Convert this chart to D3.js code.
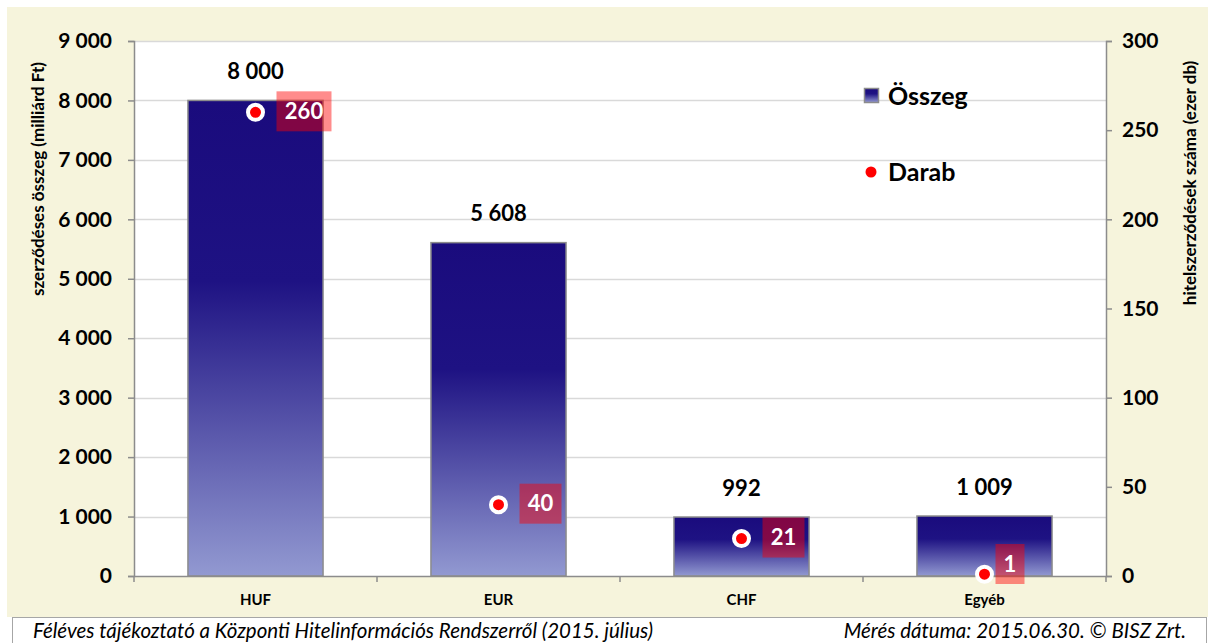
<!DOCTYPE html>
<html>
<head>
<meta charset="utf-8">
<script src="https://cdn.jsdelivr.net/npm/d3@7"></script>
<style>
  body { margin: 0; background: #fff; }
  text { font-family: Lato, "Open Sans", sans-serif; }
</style>
</head>
<body>
<div id="chart"></div>
<script>
var categories = ["HUF", "EUR", "CHF", "Egyéb"];
var osszeg = [8000, 5608, 992, 1009];
var darab = [260, 40, 21, 1];
var leftTicks = [0, 1000, 2000, 3000, 4000, 5000, 6000, 7000, 8000, 9000];
var rightTicks = [0, 50, 100, 150, 200, 250, 300];

var svgWidth = 1208, svgHeight = 643;
var margin = { top: 41, right: 102, bottom: 67, left: 134 };
var width = svgWidth - margin.left - margin.right;
var height = svgHeight - margin.top - margin.bottom;

var fmt = function(v) { return d3.format(",")(v).replace(/,/g, " "); };

var svg = d3.select("#chart").append("svg")
  .attr("width", svgWidth)
  .attr("height", svgHeight);

// gradient for bars
var defs = svg.append("defs");
var grad = defs.append("linearGradient")
  .attr("id", "barGrad")
  .attr("x1", 0).attr("y1", 0).attr("x2", 0).attr("y2", 1);
grad.append("stop").attr("offset", "0%").attr("stop-color", "#1a0b7d");
grad.append("stop").attr("offset", "38%").attr("stop-color", "#1e1283");
grad.append("stop").attr("offset", "100%").attr("stop-color", "#9299d1");

// background panels
svg.append("rect")
  .attr("x", 7).attr("y", 7).attr("width", svgWidth - 7).attr("height", 610)
  .attr("fill", "#f6f4dc");
svg.append("rect")
  .attr("x", 12.5).attr("y", 617.5).attr("width", svgWidth - 14).attr("height", 30)
  .attr("fill", "#fff").attr("stroke", "#a6a6a6");

var chartGroup = svg.append("g")
  .attr("transform", `translate(${margin.left}, ${margin.top})`);

chartGroup.append("rect")
  .attr("width", width).attr("height", height)
  .attr("fill", "#fff");

var xScale = d3.scaleBand()
  .domain(categories)
  .range([0, width])
  .paddingInner(0.444)
  .paddingOuter(0.222);

var yLeft = d3.scaleLinear().domain([0, 9000]).range([height, 0]);
var yRight = d3.scaleLinear().domain([0, 300]).range([height, 0]);

// gridlines
chartGroup.append("g")
  .selectAll("line")
  .data(leftTicks.slice(1))
  .enter().append("line")
  .attr("x1", 0).attr("x2", width)
  .attr("y1", d => Math.round(yLeft(d)) + 0.5)
  .attr("y2", d => Math.round(yLeft(d)) + 0.5)
  .attr("stroke", "#d9d9d9")
  .attr("stroke-width", 1.5);

// bars
chartGroup.selectAll(".bar")
  .data(categories)
  .enter().append("rect")
  .attr("class", "bar")
  .attr("x", d => xScale(d))
  .attr("y", (d, i) => yLeft(osszeg[i]))
  .attr("width", xScale.bandwidth())
  .attr("height", (d, i) => height - yLeft(osszeg[i]))
  .attr("fill", "url(#barGrad)")
  .attr("stroke", "#8c8c8c")
  .attr("stroke-width", 1.5);

// value labels
chartGroup.selectAll(".val")
  .data(categories)
  .enter().append("text")
  .attr("x", d => xScale(d) + xScale.bandwidth() / 2)
  .attr("y", (d, i) => yLeft(osszeg[i]) - 29)
  .attr("text-anchor", "middle")
  .attr("dy", "0.35em")
  .attr("font-size", 22)
  .attr("font-weight", "bold")
  .attr("fill", "#000")
  .text((d, i) => fmt(osszeg[i]));

// axes
var leftAxis = d3.axisLeft(yLeft).tickValues(leftTicks).tickFormat(fmt).tickSize(6).tickPadding(16);
var rightAxis = d3.axisRight(yRight).tickValues(rightTicks).tickSize(6).tickPadding(10);
var bottomAxis = d3.axisBottom(xScale).tickSize(0).tickPadding(18);

var gl = chartGroup.append("g").call(leftAxis);
var gr = chartGroup.append("g").attr("transform", `translate(${width}, 0)`).call(rightAxis);
var gb = chartGroup.append("g").attr("transform", `translate(0, ${height})`).call(bottomAxis);

[gl, gr, gb].forEach(function(g) {
  g.select(".domain").attr("stroke", "#8c8c8c").attr("stroke-width", 1.5);
  g.selectAll(".tick line").attr("stroke", "#8c8c8c").attr("stroke-width", 1.5);
  g.selectAll("text").attr("font-weight", "bold").attr("fill", "#000")
    .style("font-family", "Lato, 'Open Sans', sans-serif");
});
gl.selectAll("text").attr("font-size", 21);
gr.selectAll("text").attr("font-size", 21);
gb.selectAll("text").attr("font-size", 15);

// category boundary ticks on x axis
chartGroup.append("g")
  .selectAll("line")
  .data(d3.range(categories.length + 1))
  .enter().append("line")
  .attr("x1", i => i * width / categories.length)
  .attr("x2", i => i * width / categories.length)
  .attr("y1", height).attr("y2", height + 6)
  .attr("stroke", "#8c8c8c").attr("stroke-width", 1.5);

// darab points
var pts = chartGroup.selectAll(".pt")
  .data(categories)
  .enter().append("g")
  .attr("transform", (d, i) => `translate(${xScale(d) + xScale.bandwidth() / 2}, ${yRight(darab[i])})`);

var boxW = function(i) { return String(darab[i]).length * 13 + 16; };
// keep the label box inside the plot (as the original does for small values)
var boxY = function(i) { return Math.min(-21, height + 8 - yRight(darab[i]) - 40); };
var boxX = function(i) { return boxY(i) < -21 ? 11 : 21; };

pts.append("rect")
  .attr("x", (d, i) => boxX(i))
  .attr("y", (d, i) => boxY(i))
  .attr("width", (d, i) => boxW(i))
  .attr("height", 40)
  .attr("fill", "#ff0000")
  .attr("opacity", 0.45);

pts.append("circle")
  .attr("r", 7.5)
  .attr("fill", "#ff0000")
  .attr("stroke", "#fff")
  .attr("stroke-width", 4);

pts.append("text")
  .attr("x", (d, i) => boxX(i) + boxW(i) / 2)
  .attr("y", (d, i) => boxY(i) + 20)
  .attr("dy", "0.35em")
  .attr("text-anchor", "middle")
  .attr("font-size", 22)
  .attr("font-weight", "bold")
  .attr("fill", "#fff")
  .text((d, i) => darab[i]);

// axis titles
svg.append("text")
  .attr("transform", "translate(38, 179) rotate(-90)")
  .attr("text-anchor", "middle")
  .attr("dy", "0.35em")
  .attr("font-size", 17)
  .attr("font-weight", "bold")
  .text("szerződéses összeg (milliárd Ft)");

svg.append("text")
  .attr("transform", "translate(1190, 183) rotate(-90)")
  .attr("text-anchor", "middle")
  .attr("dy", "0.35em")
  .attr("font-size", 17)
  .attr("font-weight", "bold")
  .text("hitelszerződések száma (ezer db)");

// legend
var legend = svg.append("g");
legend.append("rect")
  .attr("x", 864.5).attr("y", 88.5).attr("width", 14).attr("height", 14)
  .attr("fill", "url(#barGrad)").attr("stroke", "#8c8c8c").attr("stroke-width", 1.5);
legend.append("text")
  .attr("x", 888).attr("y", 96).attr("dy", "0.35em")
  .attr("font-size", 25).attr("font-weight", "bold")
  .text("Összeg");
legend.append("circle")
  .attr("cx", 871).attr("cy", 172).attr("r", 5.5).attr("fill", "#ff0000");
legend.append("text")
  .attr("x", 888).attr("y", 172).attr("dy", "0.35em")
  .attr("font-size", 25).attr("font-weight", "bold")
  .text("Darab");

// footer
svg.append("text")
  .attr("x", 33).attr("y", 631).attr("dy", "0.35em")
  .attr("font-size", 20.5).attr("font-style", "italic")
  .text("Féléves tájékoztató a Központi Hitelinformációs Rendszerről (2015. július)");
svg.append("text")
  .attr("x", 1186).attr("y", 631).attr("dy", "0.35em")
  .attr("text-anchor", "end")
  .attr("font-size", 20.5).attr("font-style", "italic")
  .text("Mérés dátuma: 2015.06.30. © BISZ Zrt.");
</script>
</body>
</html>
